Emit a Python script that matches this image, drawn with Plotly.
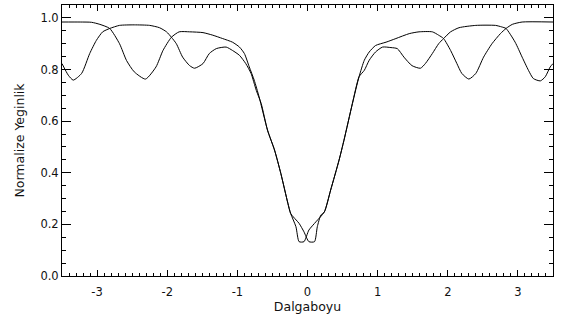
import plotly.graph_objects as go

# Curve P (left-side flat top, minimum slightly right of 0)
p_x = [-3.50, -3.24, -3.08, -2.96, -2.82, -2.68, -2.58, -2.47, -2.31, -2.16, -2.06, -1.94,
       -1.83, -1.68, -1.49, -1.35, -1.21, -1.07, -0.97, -0.90, -0.83, -0.76, -0.69,
       -0.57, -0.47, -0.38, -0.28, -0.24, -0.12, -0.05, 0.02, 0.10, 0.14, 0.19, 0.24,
       0.33, 0.45, 0.52, 0.64, 0.735, 0.81, 0.88, 0.97, 1.07, 1.19, 1.28, 1.375, 1.49,
       1.61, 1.68, 1.78, 1.87, 1.94, 2.04, 2.16, 2.40, 2.68, 2.77, 2.83, 2.96, 3.06,
       3.15, 3.22, 3.32, 3.39, 3.46, 3.50]
p_y = [0.984, 0.984, 0.983, 0.975, 0.959, 0.900, 0.835, 0.791, 0.763, 0.810, 0.874, 0.925,
       0.946, 0.946, 0.943, 0.933, 0.920, 0.906, 0.887, 0.862, 0.810, 0.759, 0.694,
       0.565, 0.488, 0.397, 0.282, 0.242, 0.204, 0.171, 0.133, 0.133, 0.191, 0.236, 0.248,
       0.333, 0.449, 0.526, 0.668, 0.772, 0.797, 0.836, 0.868, 0.887, 0.885, 0.881, 0.848,
       0.815, 0.805, 0.823, 0.862, 0.900, 0.920, 0.946, 0.962, 0.971, 0.971, 0.965, 0.959,
       0.906, 0.848, 0.797, 0.765, 0.756, 0.772, 0.810, 0.823]

# Curve Q (right-side flat top, minimum slightly left of 0)
q_x = [-3.50, -3.41, -3.34, -3.22, -3.105, -3.01, -2.92, -2.82, -2.68, -2.47, -2.25, -2.11,
       -2.01, -1.94, -1.87, -1.78, -1.68, -1.61, -1.49, -1.40, -1.30, -1.16, -1.07, -0.97,
       -0.88, -0.805, -0.73, -0.66, -0.57, -0.47, -0.38, -0.28, -0.24, -0.165, -0.12, -0.05,
       0.02, 0.12, 0.24, 0.33, 0.45, 0.52, 0.64, 0.735, 0.81, 0.88, 0.97, 1.12, 1.26, 1.45,
       1.59, 1.78, 1.87, 1.94, 2.04, 2.13, 2.20, 2.30, 2.40, 2.51, 2.63, 2.75, 2.83, 2.92,
       3.06, 3.50]
q_y = [0.823, 0.778, 0.759, 0.785, 0.862, 0.913, 0.946, 0.959, 0.971, 0.973, 0.971, 0.962,
       0.946, 0.925, 0.900, 0.848, 0.815, 0.805, 0.823, 0.862, 0.881, 0.887, 0.874, 0.855,
       0.823, 0.785, 0.719, 0.668, 0.565, 0.488, 0.397, 0.282, 0.242, 0.191, 0.133, 0.133,
       0.178, 0.210, 0.248, 0.333, 0.449, 0.526, 0.668, 0.772, 0.836, 0.868, 0.893, 0.906,
       0.920, 0.939, 0.946, 0.946, 0.933, 0.920, 0.874, 0.823, 0.785, 0.763, 0.785, 0.848,
       0.900, 0.939, 0.959, 0.975, 0.984, 0.984]

x_ticks = [-3, -2, -1, 0, 1, 2, 3]
y_ticks = [0.0, 0.2, 0.4, 0.6, 0.8, 1.0]
y_ticklabels = ["0.0", "0.2", "0.4", "0.6", "0.8", "1.0"]

fig = go.Figure()
for xs, ys in [(p_x, p_y), (q_x, q_y)]:
    fig.add_trace(go.Scatter(x=xs, y=ys, mode="lines",
                             line=dict(color="black", width=1, shape="spline", smoothing=0.6),
                             showlegend=False, hoverinfo="skip"))

tick_font = dict(family="DejaVu Sans, sans-serif", size=11.5, color="#111")
title_font = dict(family="DejaVu Sans, sans-serif", size=12.5, color="#111")
fig.update_layout(
    width=563, height=322,
    margin=dict(l=62, r=10, t=5, b=46),
    paper_bgcolor="white", plot_bgcolor="white",
    font=tick_font,
    xaxis=dict(range=[-3.5, 3.5], tickvals=x_ticks, ticktext=[str(v) for v in x_ticks],
               ticks="inside", ticklen=6, tickwidth=1, tickcolor="black",
               minor=dict(dtick=0.1, tick0=0, ticks="inside", ticklen=3, tickcolor="black", tickwidth=1),
               showline=True, linecolor="black", linewidth=1, mirror="ticks",
               showgrid=False, zeroline=False, tickfont=tick_font, ticklabelstandoff=5,
               title=dict(text="Dalgaboyu", font=title_font, standoff=4)),
    yaxis=dict(range=[0, 1.05], tickvals=y_ticks, ticktext=y_ticklabels,
               ticks="inside", ticklen=9, tickwidth=1, tickcolor="black",
               minor=dict(dtick=0.05, tick0=0, ticks="inside", ticklen=4, tickcolor="black", tickwidth=1),
               showline=True, linecolor="black", linewidth=1, mirror="ticks",
               showgrid=False, zeroline=False, tickfont=tick_font,
               title=dict(text="Normalize Yeginlik", font=title_font, standoff=13)),
)

fig.write_html("out.html")
